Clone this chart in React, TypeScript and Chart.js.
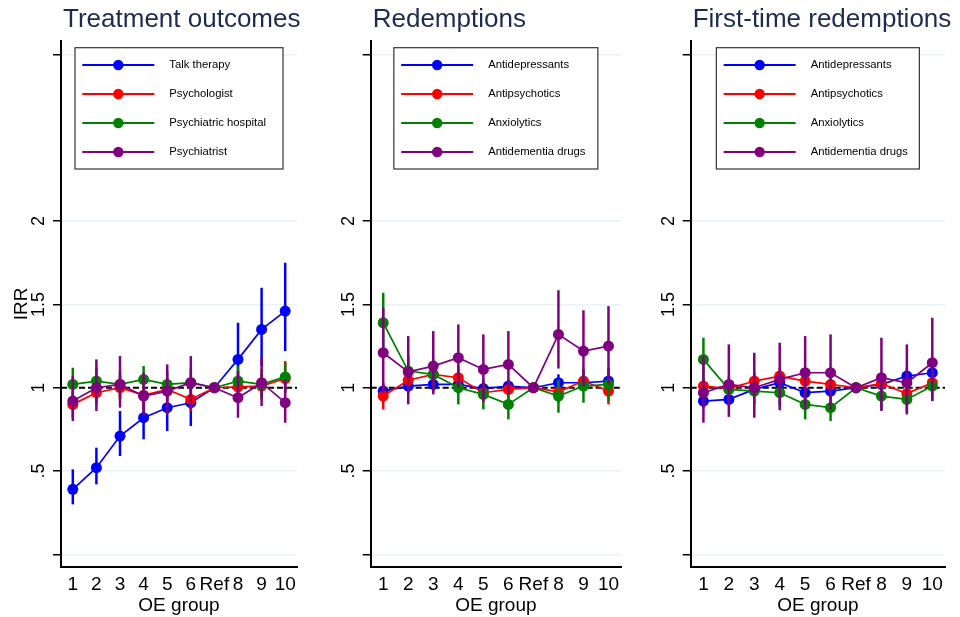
import React, { useEffect, useRef } from 'react';
import { Chart, registerables } from 'chart.js';

Chart.register(...registerables);

// ---------- axis categories & ticks ----------
const oeGroups = ['1', '2', '3', '4', '5', '6', 'Ref', '8', '9', '10'];
const yTickValues = [0, 0.5, 1, 1.5, 2, 3];
const yTickLabels = ['', '.5', '1', '1.5', '2', ''];
const panelTitles = ['Treatment outcomes', 'Redemptions', 'First-time redemptions'];
const seriesColors = ['#0000ff', '#ff0000', '#008000', '#800080'];

// ---------- Panel 1: Treatment outcomes ----------
const treatmentNames = ['Talk therapy', 'Psychologist', 'Psychiatric hospital', 'Psychiatrist'];
const talkTherapy = [0.39, 0.52, 0.71, 0.82, 0.88, 0.91, 1, 1.17, 1.35, 1.46];
const talkTherapyLo = [0.30, 0.42, 0.59, 0.69, 0.74, 0.77, null, 0.98, 1.13, 1.22];
const talkTherapyHi = [0.51, 0.64, 0.86, 0.95, 1.02, 1.06, null, 1.39, 1.60, 1.75];
const psychologist = [0.90, 0.97, 1.0, 0.955, 0.99, 0.93, 1, 1.005, 1.01, 1.055];
const psychologistLo = [0.82, 0.90, 0.93, 0.88, 0.92, 0.86, null, 0.94, 0.94, 0.97];
const psychologistHi = [0.98, 1.04, 1.07, 1.03, 1.06, 1.0, null, 1.07, 1.08, 1.16];
const psychHospital = [1.02, 1.04, 1.02, 1.05, 1.02, 1.03, 1, 1.04, 1.02, 1.065];
const psychHospitalLo = [0.93, 0.96, 0.94, 0.97, 0.94, 0.95, null, 0.95, 0.93, 0.98];
const psychHospitalHi = [1.12, 1.12, 1.10, 1.13, 1.10, 1.11, null, 1.13, 1.11, 1.15];
const psychiatrist = [0.92, 1.0, 1.02, 0.95, 0.98, 1.03, 1, 0.94, 1.03, 0.91];
const psychiatristLo = [0.80, 0.86, 0.88, 0.835, 0.84, 0.87, null, 0.82, 0.89, 0.79];
const psychiatristHi = [1.07, 1.17, 1.19, 1.09, 1.14, 1.19, null, 1.10, 1.18, 1.05];

// ---------- Panel 2: Redemptions ----------
const drugNames = ['Antidepressants', 'Antipsychotics', 'Anxiolytics', 'Antidementia drugs'];
const redAntidep = [0.98, 1.01, 1.02, 1.02, 0.995, 1.01, 1, 1.03, 1.03, 1.04];
const redAntidepLo = [0.94, 0.97, 0.98, 0.98, 0.96, 0.97, null, 0.98, 0.99, 1.0];
const redAntidepHi = [1.02, 1.05, 1.06, 1.06, 1.03, 1.05, null, 1.08, 1.07, 1.08];
const redAntipsych = [0.95, 1.045, 1.08, 1.06, 0.97, 0.99, 1, 0.975, 1.04, 0.98];
const redAntipsychLo = [0.87, 0.98, 1.01, 0.99, 0.91, 0.93, null, 0.91, 0.98, 0.90];
const redAntipsychHi = [1.03, 1.11, 1.15, 1.13, 1.03, 1.05, null, 1.04, 1.10, 1.06];
const redAnxio = [1.39, 1.10, 1.08, 1.0, 0.96, 0.90, 1, 0.95, 1.01, 1.02];
const redAnxioLo = [1.22, 1.01, 0.99, 0.90, 0.87, 0.81, null, 0.85, 0.91, 0.92];
const redAnxioHi = [1.57, 1.19, 1.17, 1.10, 1.05, 0.99, null, 1.05, 1.11, 1.12];
const redAntidem = [1.21, 1.095, 1.13, 1.18, 1.11, 1.14, 1, 1.32, 1.22, 1.25];
const redAntidemLo = [0.97, 0.90, 0.96, 1.0, 0.92, 0.96, null, 1.115, 1.01, 1.02];
const redAntidemHi = [1.48, 1.31, 1.34, 1.38, 1.32, 1.34, null, 1.585, 1.465, 1.49];

// ---------- Panel 3: First-time redemptions ----------
const ftAntidep = [0.92, 0.93, 0.99, 1.03, 0.97, 0.98, 1, 1.02, 1.07, 1.09];
const ftAntidepLo = [0.88, 0.89, 0.95, 0.99, 0.93, 0.94, null, 0.98, 1.02, 1.04];
const ftAntidepHi = [0.96, 0.97, 1.03, 1.07, 1.01, 1.02, null, 1.06, 1.12, 1.14];
const ftAntipsych = [1.01, 0.995, 1.04, 1.07, 1.04, 1.02, 1, 1.025, 0.965, 1.03];
const ftAntipsychLo = [0.96, 0.95, 0.99, 1.02, 0.99, 0.97, null, 0.97, 0.91, 0.97];
const ftAntipsychHi = [1.06, 1.04, 1.09, 1.12, 1.09, 1.07, null, 1.08, 1.02, 1.09];
const ftAnxio = [1.17, 0.99, 0.98, 0.97, 0.90, 0.88, 1, 0.95, 0.93, 1.01];
const ftAnxioLo = [1.04, 0.91, 0.90, 0.89, 0.81, 0.80, null, 0.87, 0.85, 0.92];
const ftAnxioHi = [1.30, 1.07, 1.06, 1.05, 0.99, 0.96, null, 1.03, 1.01, 1.10];
const ftAntidem = [0.97, 1.02, 1.0, 1.05, 1.09, 1.09, 1, 1.06, 1.03, 1.15];
const ftAntidemLo = [0.79, 0.825, 0.82, 0.865, 0.87, 0.87, null, 0.86, 0.84, 0.92];
const ftAntidemHi = [1.19, 1.26, 1.21, 1.27, 1.31, 1.32, null, 1.30, 1.26, 1.42];

type PanelCfg = {
  title: string;
  names: string[];
  values: number[][];
  lo: (number | null)[][];
  hi: (number | null)[][];
  yAxisWidth: number;
  rightPad: number;
  legendWidth: number;
  yTitle: string;
};

const panels: PanelCfg[] = [
  {
    title: panelTitles[0],
    names: treatmentNames,
    values: [talkTherapy, psychologist, psychHospital, psychiatrist],
    lo: [talkTherapyLo, psychologistLo, psychHospitalLo, psychiatristLo],
    hi: [talkTherapyHi, psychologistHi, psychHospitalHi, psychiatristHi],
    yAxisWidth: 61,
    rightPad: 23,
    legendWidth: 208,
    yTitle: 'IRR',
  },
  {
    title: panelTitles[1],
    names: drugNames,
    values: [redAntidep, redAntipsych, redAnxio, redAntidem],
    lo: [redAntidepLo, redAntipsychLo, redAnxioLo, redAntidemLo],
    hi: [redAntidepHi, redAntipsychHi, redAnxioHi, redAntidemHi],
    yAxisWidth: 50.7,
    rightPad: 19,
    legendWidth: 204,
    yTitle: '',
  },
  {
    title: panelTitles[2],
    names: drugNames,
    values: [ftAntidep, ftAntipsych, ftAnxio, ftAntidem],
    lo: [ftAntidepLo, ftAntipsychLo, ftAnxioLo, ftAntidemLo],
    hi: [ftAntidepHi, ftAntipsychHi, ftAnxioHi, ftAntidemHi],
    yAxisWidth: 50.7,
    rightPad: 15,
    legendWidth: 203,
    yTitle: '',
  },
];

const FONT = "'Liberation Sans', Arial, Helvetica, sans-serif";

function Panel({ idx, left }: { idx: number; left: number }) {
  const ref = useRef<HTMLCanvasElement>(null);

  useEffect(() => {
    const cfg = panels[idx];
    const canvas = ref.current;
    if (!canvas) return;

    const errorBars = {
      id: 'errorBars',
      afterDatasetDraw(chart: any, args: any) {
        const i = args.index;
        const meta = args.meta;
        const yScale = chart.scales.y;
        const ctx = chart.ctx;
        ctx.save();
        ctx.strokeStyle = seriesColors[i];
        ctx.lineWidth = 2.5;
        cfg.lo[i].forEach((lo, j) => {
          const hi = cfg.hi[i][j];
          if (lo == null || hi == null) return;
          const x = meta.data[j].x;
          ctx.beginPath();
          ctx.moveTo(x, yScale.getPixelForValue(lo));
          ctx.lineTo(x, yScale.getPixelForValue(hi));
          ctx.stroke();
        });
        ctx.restore();
      },
    };

    const refLine = {
      id: 'refLine',
      beforeDatasetsDraw(chart: any) {
        const { ctx, chartArea } = chart;
        const y = chart.scales.y.getPixelForValue(1);
        ctx.save();
        ctx.strokeStyle = '#000';
        ctx.lineWidth = 2;
        ctx.setLineDash([6, 3]);
        ctx.beginPath();
        ctx.moveTo(chartArea.left, y);
        ctx.lineTo(chartArea.right, y);
        ctx.stroke();
        ctx.restore();
      },
    };

    const panelTitle = {
      id: 'panelTitle',
      afterDraw(chart: any) {
        const { ctx, chartArea } = chart;
        ctx.save();
        ctx.fillStyle = '#1c2b4e';
        ctx.font = `26px ${FONT}`;
        ctx.textAlign = 'left';
        ctx.textBaseline = 'middle';
        ctx.fillText(cfg.title, chartArea.left + 2, 20);
        ctx.restore();
      },
    };

    const boxLegend = {
      id: 'boxLegend',
      afterDraw(chart: any) {
        const { ctx, chartArea } = chart;
        const w = cfg.legendWidth;
        const h = 121.3;
        const x0 = (chartArea.left + chartArea.right) / 2 - w / 2;
        const y0 = chartArea.top + 6.7;
        ctx.save();
        ctx.fillStyle = '#fff';
        ctx.fillRect(x0, y0, w, h);
        ctx.strokeStyle = '#333';
        ctx.lineWidth = 1.2;
        ctx.strokeRect(x0, y0, w, h);
        cfg.names.forEach((name, i) => {
          const y = y0 + 17.3 + i * 29;
          ctx.strokeStyle = seriesColors[i];
          ctx.fillStyle = seriesColors[i];
          ctx.lineWidth = 2;
          ctx.beginPath();
          ctx.moveTo(x0 + 7.3, y);
          ctx.lineTo(x0 + 79.3, y);
          ctx.stroke();
          ctx.beginPath();
          ctx.arc(x0 + 43.3, y, 5.2, 0, Math.PI * 2);
          ctx.fill();
          ctx.fillStyle = '#000';
          ctx.font = `11.3px ${FONT}`;
          ctx.textAlign = 'left';
          ctx.textBaseline = 'middle';
          ctx.fillText(name, x0 + 94.3, y);
        });
        ctx.restore();
      },
    };

    const datasets = cfg.values.map((vals, i) => ({
      label: cfg.names[i],
      data: vals,
      borderColor: seriesColors[i],
      backgroundColor: seriesColors[i],
      pointBackgroundColor: seriesColors[i],
      pointBorderWidth: 0,
      pointRadius: 5.5,
      pointHoverRadius: 5.5,
      borderWidth: 1.7,
      tension: 0,
      fill: false,
      order: cfg.values.length - 1 - i,
    }));

    const chart = new Chart(canvas, {
      type: 'line',
      data: { labels: oeGroups, datasets },
      options: {
        responsive: false,
        animation: false,
        layout: { padding: { top: 41, right: cfg.rightPad, left: 0, bottom: 0 } },
        plugins: {
          legend: { display: false },
          title: { display: false },
          tooltip: { enabled: false },
        },
        scales: {
          x: {
            type: 'category',
            labels: oeGroups,
            offset: true,
            grid: { display: false, drawTicks: false, offset: true },
            border: { display: true, color: '#000', width: 2 },
            ticks: {
              color: '#000',
              font: { size: 19, family: FONT },
              padding: 6,
              autoSkip: false,
              maxRotation: 0,
              minRotation: 0,
            },
            title: {
              display: true,
              text: 'OE group',
              color: '#000',
              font: { size: 19, family: FONT },
              padding: { top: 0, bottom: 0 },
            },
            afterFit: (s: any) => {
              s.height = 50;
            },
          },
          y: {
            type: 'linear',
            min: -0.076,
            max: 3.081,
            afterBuildTicks: (s: any) => {
              s.ticks = yTickValues.map((v) => ({ value: v }));
            },
            grid: {
              color: '#eaf2f3',
              lineWidth: 1.5,
              drawTicks: true,
              tickLength: 8,
              tickColor: '#000',
              tickWidth: 1.5,
            },
            border: { display: true, color: '#000', width: 2 },
            ticks: {
              color: '#000',
              font: { size: 18, family: FONT },
              minRotation: 90,
              maxRotation: 90,
              crossAlign: 'center',
              padding: 1.5,
              callback: (v: any) => {
                const k = yTickValues.indexOf(Number(v));
                return k >= 0 ? yTickLabels[k] : '';
              },
            },
            title: {
              display: cfg.yTitle !== '',
              text: cfg.yTitle,
              color: '#000',
              font: { size: 19, family: FONT },
              padding: { top: 10.6, bottom: 0 },
            },
            afterFit: (s: any) => {
              s.width = cfg.yAxisWidth;
            },
          },
        },
      } as any,
      plugins: [refLine, errorBars, boxLegend, panelTitle],
    });

    return () => chart.destroy();
  }, [idx]);

  return (
    <canvas
      ref={ref}
      width={320}
      height={617}
      style={{ position: 'absolute', left, top: 0, width: 320, height: 617 }}
    />
  );
}

export default function App() {
  return (
    <div style={{ position: 'absolute', left: 0, top: 0, width: 960, height: 617, background: '#fff' }}>
      <Panel idx={0} left={0} />
      <Panel idx={1} left={320} />
      <Panel idx={2} left={640} />
    </div>
  );
}
